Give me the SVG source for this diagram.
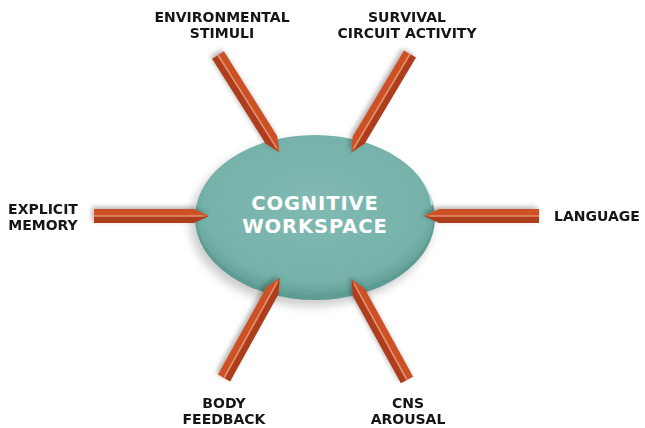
<svg xmlns="http://www.w3.org/2000/svg" width="645" height="428" viewBox="0 0 645 428">
<style>
.lbl{font-family:"DejaVu Sans","Liberation Sans",sans-serif;font-weight:bold;font-size:14px;fill:#151515;text-anchor:middle;letter-spacing:0}
.core{font-family:"DejaVu Sans","Liberation Sans",sans-serif;font-weight:bold;font-size:19.5px;fill:#ffffff;text-anchor:middle;letter-spacing:0.9px}
</style>
<defs>
<radialGradient id="eg" cx="0.5" cy="0.45" r="0.55">
<stop offset="0" stop-color="#80bab3"/>
<stop offset="0.85" stop-color="#76b2aa"/>
<stop offset="1" stop-color="#62a098"/>
</radialGradient>
<filter id="esh" x="-20%" y="-20%" width="140%" height="150%">
<feGaussianBlur stdDeviation="5"/>
</filter>
<filter id="ash" x="-20%" y="-20%" width="140%" height="140%">
<feGaussianBlur in="SourceAlpha" stdDeviation="2.5" result="b"/>
<feOffset in="b" dx="-2" dy="-2" result="o"/>
<feComponentTransfer in="o" result="s"><feFuncA type="linear" slope="0.3"/></feComponentTransfer>
<feMerge><feMergeNode in="s"/><feMergeNode in="SourceGraphic"/></feMerge>
</filter>
<g id="arrow">
<path d="M0,-7 L100,-7 L115,0 L0,0 Z" fill="#cc5127"/>
<path d="M0,0 L115,0 L100,7 L0,7 Z" fill="#ad3d1a"/>
<path d="M0,-0.8 L108,-0.8 L113,0 L108,0.8 L0,0.8 Z" fill="#e7906c"/>
</g>
</defs>
<g id="workspace">
<ellipse cx="311" cy="223" rx="121" ry="83" fill="#9a9a9a" opacity="0.5" filter="url(#esh)"/>
<ellipse cx="315" cy="218" rx="120" ry="82" fill="#5e9b93"/>
<ellipse cx="315" cy="215" rx="119" ry="80" fill="url(#eg)"/>
<path d="M370,142 A118,79 0 0 1 432,205" fill="none" stroke="#ffffff" stroke-opacity="0.55" stroke-width="2"/>
<text class="core" x="315" y="210">COGNITIVE</text>
<text class="core" x="315" y="233">WORKSPACE</text>
</g>
<g id="connectors" filter="url(#ash)">
<use href="#arrow" transform="translate(218,55) rotate(57.8)"/>
<use href="#arrow" transform="translate(410,54) rotate(120.8) scale(1,-1)"/>
<use href="#arrow" transform="translate(94,216)"/>
<use href="#arrow" transform="translate(539,216) rotate(180) scale(1,-1)"/>
<use href="#arrow" transform="translate(224,378) rotate(-61)"/>
<use href="#arrow" transform="translate(407,380) rotate(-118.8) scale(1,-1)"/>
</g>
<g id="environmental-stimuli">
<text class="lbl" x="222" y="22">ENVIRONMENTAL</text>
<text class="lbl" x="222" y="38">STIMULI</text>
</g>
<g id="survival-circuit-activity">
<text class="lbl" x="407" y="22">SURVIVAL</text>
<text class="lbl" x="407" y="38">CIRCUIT ACTIVITY</text>
</g>
<g id="explicit-memory">
<text class="lbl" x="43" y="214">EXPLICIT</text>
<text class="lbl" x="43" y="230">MEMORY</text>
</g>
<g id="language">
<text class="lbl" x="597" y="221">LANGUAGE</text>
</g>
<g id="body-feedback">
<text class="lbl" x="224" y="408">BODY</text>
<text class="lbl" x="224" y="424">FEEDBACK</text>
</g>
<g id="cns-arousal">
<text class="lbl" x="408" y="408">CNS</text>
<text class="lbl" x="408" y="424">AROUSAL</text>
</g>
</svg>
